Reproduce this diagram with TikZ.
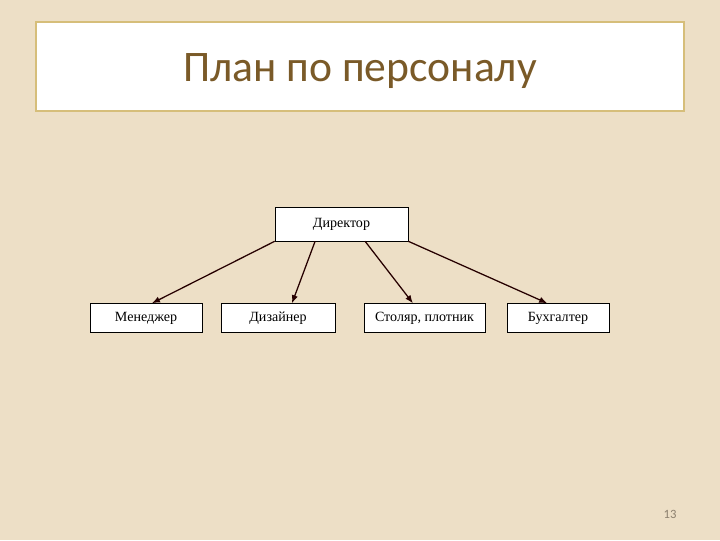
\documentclass[tikz,border=0pt]{standalone}
\usepackage{fontspec}
\setmainfont{Liberation Serif}
\newfontfamily\titlefont{Carlito}
\usetikzlibrary{arrows.meta}
\definecolor{paper}{HTML}{EDDFC6}
\definecolor{frame}{HTML}{D6BE7A}
\definecolor{titlebrown}{HTML}{7A5A28}
\definecolor{pagegray}{HTML}{8C806E}
\tikzset{
  post/.style={draw=black, fill=white, inner sep=0pt, font=\fontsize{10}{12}\selectfont},
  link/.style={-{Latex[length=2mm,width=1.6mm]}, line width=0.9pt, draw=black!85!red}
}
\begin{document}
\begin{tikzpicture}[x=0.025cm, y=-0.025cm]
    % background
    \fill[paper] (0,0) rectangle (720,540);
    \useasboundingbox (0,0) rectangle (720,540);

    % title
    \draw[frame, fill=white, line width=1pt] (36,22) rectangle (684,111);
    \node[titlebrown, font=\titlefont\fontsize{31}{36}\selectfont] (title) at (360,71) {План по персоналу};

    % chart
    \node[post, minimum width=3.325cm, minimum height=0.85cm] (dir) at (341.5,224) {Директор};
    \node[post, minimum width=2.8cm, minimum height=0.725cm] (men) at (146,318) {Менеджер};
    \node[post, minimum width=2.85cm, minimum height=0.725cm] (des) at (278,318) {Дизайнер};
    \node[post, minimum width=3.025cm, minimum height=0.725cm] (car) at (424.5,318) {Столяр, плотник};
    \node[post, minimum width=2.55cm, minimum height=0.725cm] (acc) at (558,318) {Бухгалтер};

    \draw[link] (dir.south west) -- ([xshift=0.15cm]men.north);
    \draw[link] ([xshift=-0.66cm]dir.south) -- ([xshift=0.35cm]des.north);
    \draw[link] ([xshift=0.59cm]dir.south) -- ([xshift=-0.29cm]car.north);
    \draw[link] (dir.south east) -- ([xshift=-0.27cm]acc.north);

    % page number
    \node[pagegray, font=\titlefont\fontsize{9}{10}\selectfont] (page) at (670,514) {13};
\end{tikzpicture}
\end{document}
